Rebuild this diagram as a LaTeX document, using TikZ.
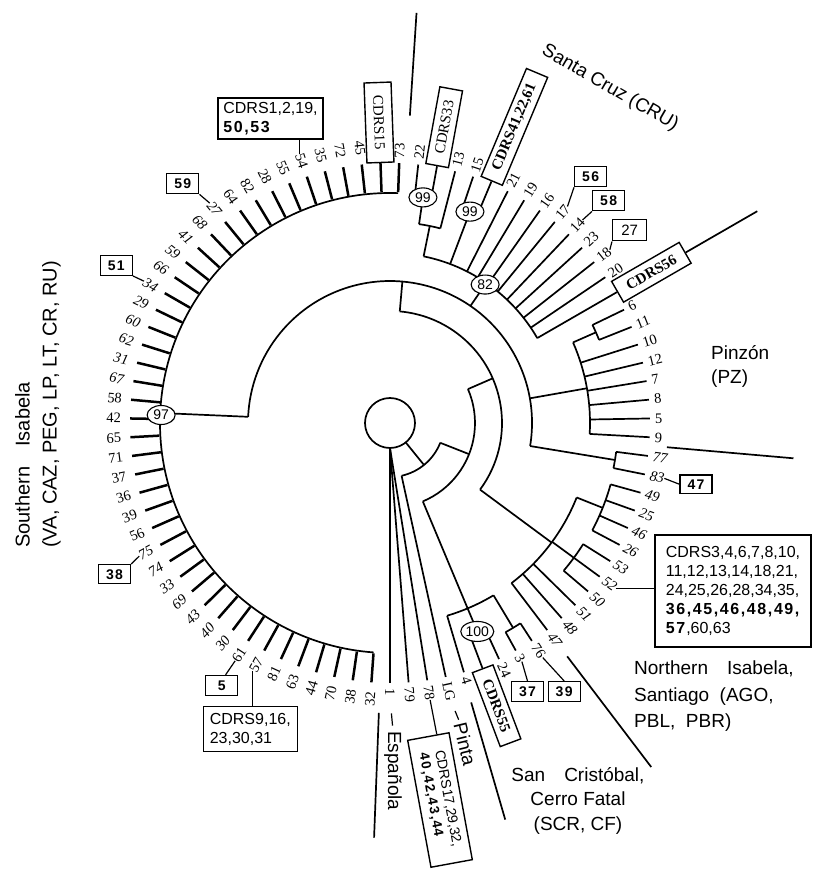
\documentclass[tikz,border=0pt]{standalone}
\usepackage{fontspec}
\setmainfont{Liberation Serif}
\newfontfamily\hv{Liberation Sans}
\newfontfamily\hvw{Liberation Sans}[LetterSpace=10]
\usetikzlibrary{shapes.geometric,calc}
\tikzset{
 br/.style={line width=1.7pt},
 sleaf/.style={line width=2.5pt},
 conn/.style={line width=1.2pt},
 clsep/.style={line width=1.7pt},
 lab/.style={inner sep=0pt,font=\fontsize{14.5}{15}\selectfont},
 boot/.style={ellipse,draw,fill=white,line width=1.1pt,inner sep=0pt,minimum width=28pt,minimum height=19pt,font=\hv\fontsize{14}{14}\selectfont},
 nbox/.style={draw,fill=white,line width=1.4pt,inner sep=0pt,minimum width=32pt,minimum height=20pt,font=\hvw\bfseries\fontsize{14}{14}\selectfont},
 rbox/.style={draw,fill=white,line width=1.4pt,inner sep=1pt,font=\fontsize{15}{15}\selectfont},
 tbox/.style={draw,fill=white,line width=1.4pt,inner sep=4pt,align=left,font=\hv\fontsize{16}{19}\selectfont},
 clade/.style={inner sep=0pt,font=\hv\fontsize{19}{24}\selectfont},
}
\newcommand\carc[3]{\draw[br] (#1:#3) arc[start angle=#1,end angle=#2,radius=#3pt];}
\newcommand\radl[3]{\draw[br] (#1:#2) -- (#1:#3);}
\newcommand\rlab[3]{\pgfmathsetmacro\myang{87.9-4.138*#1}\node[lab,anchor=west,rotate=\myang] (r#2) at (\myang:265) {#3};}
\newcommand\rleaf[4]{\pgfmathsetmacro\myang{87.9-4.138*#1}\draw[br] (\myang:#3) -- (\myang:260);\rlab{#1}{#2}{#4}}
\newcommand\lleaf[3]{\pgfmathsetmacro\myang{265.9-4.138*#1}\pgfmathsetmacro\myrot{\myang-180}\draw[sleaf] (\myang:231) -- (\myang:260);\node[lab,anchor=east,rotate=\myrot] (s#2) at (\myang:269) {#3};}
\begin{document}
\begin{tikzpicture}[x=1pt,y=1pt]
\useasboundingbox (-390,-446) rectangle (424,423);
\fill[white] (-390,-446) rectangle (424,423);
% ---------- backbone
\draw[br] (0,0) circle[radius=25pt];
\radl{-51}{25}{54}
\carc{-77.62}{-21.5}{54}
\radl{-77.62}{54}{260}
\radl{-21.5}{54}{85}
\carc{-67.28}{23.5}{85}
\radl{23.5}{85}{112}
\carc{-36.5}{85}{112}
\radl{85}{112}{142}
\carc{-9.34}{177.5}{142}
\radl{177.5}{142}{230}
\carc{87.97}{265.9}{230}
% Santa Cruz
\radl{55.5}{142}{170}
\carc{29.97}{78.59}{170}
\radl{78.59}{170}{201}
\carc{75.49}{81.69}{201}
\radl{81.69}{201}{228}
\carc{79.62}{83.76}{228}
\radl{69.28}{170}{226}
\carc{67.21}{71.35}{226}
% Pinzon
\radl{10}{142}{200}
\carc{-3.14}{23.76}{200}
\radl{23.76}{200}{225}
\carc{21.69}{25.83}{225}
% 77/83
\radl{-9.34}{142}{228}
\carc{-11.41}{-7.27}{228}
% Northern Isabela
\radl{-36.5}{112}{201}
\carc{-52.79}{-21.75}{201}
\radl{-21.75}{201}{229}
\carc{-27.96}{-15.55}{229}
\radl{-36.24}{201}{228}
\carc{-40.38}{-32.10}{228}
% San Cristobal
\radl{-67.28}{85}{201}
\carc{-73.48}{-59}{201}
\radl{-59}{201}{239}
\carc{-61.07}{-56.93}{239}
\radl{-67.28}{201}{226}
\carc{-69.34}{-65.21}{226}
% leaves from the root point
\draw[br] (-90:25) -- (-81.76:260);
\draw[br] (-90:25) -- (-85.90:260);
\draw[br] (-90:25) -- (-90:260);
% ---------- right-hand leaves
\rleaf{1}{22}{228}{22}
\rleaf{3}{13}{201}{13}
\rleaf{4}{15}{226}{15}
\rleaf{6}{21}{170}{21}
\rleaf{7}{19}{170}{19}
\rleaf{8}{16}{170}{16}
\rleaf{9}{17}{170}{17}
\rleaf{10}{14}{170}{14}
\rleaf{11}{23}{170}{23}
\rleaf{12}{18}{170}{18}
\rleaf{13}{20}{170}{20}
\rleaf{15}{6}{225}{6}
\rleaf{16}{11}{225}{11}
\rleaf{17}{10}{200}{10}
\rleaf{18}{12}{200}{12}
\rleaf{19}{7}{200}{7}
\rleaf{20}{8}{200}{8}
\rleaf{21}{5}{200}{5}
\rleaf{22}{9}{200}{9}
\rleaf{23}{77}{228}{\textit{77}}
\rleaf{24}{83}{228}{\textit{83}}
\rleaf{25}{49}{229}{\textit{49}}
\rleaf{26}{25}{229}{\textit{25}}
\rleaf{27}{46}{229}{\textit{46}}
\rleaf{28}{26}{229}{\textit{26}}
\rleaf{29}{53}{228}{\textit{53}}
\rleaf{30}{52}{228}{\textit{52}}
\rleaf{31}{50}{228}{\textit{50}}
\rleaf{32}{51}{201}{\textit{51}}
\rleaf{33}{48}{201}{\textit{48}}
\rleaf{34}{47}{201}{\textit{47}}
\rleaf{35}{76}{239}{76}
\rleaf{36}{3}{239}{3}
\rleaf{37}{24}{226}{24}
\rleaf{39}{4}{201}{4}
\rlab{40}{LG}{LG}
\rlab{41}{78}{78}
\rlab{42}{79}{79}
\rlab{43}{1}{1}
% boxed right leaves
\draw[br] (79.62:228) -- (79.62:261);
\node[rbox,anchor=west,rotate=79.62,minimum width=78pt,minimum height=23pt] (bC33) at (79.62:261) {CDRS33};
\draw[br] (67.21:226) -- (67.21:262);
\node[rbox,anchor=west,rotate=67.21,minimum width=117pt,minimum height=23pt,font=\bfseries\fontsize{15}{15}\selectfont] (bC41) at (67.21:262) {CDRS41,22,61};
\draw[br] (29.97:170) -- (29.97:262);
\node[rbox,anchor=west,rotate=29.97,minimum width=78pt,minimum height=24pt,font=\bfseries\fontsize{15}{15}\selectfont] (bC56) at (29.97:262) {CDRS56};
\draw[br] (-69.34:226) -- (-69.34:262);
\node[rbox,anchor=west,rotate=-69.34,minimum width=79pt,minimum height=22pt,font=\bfseries\fontsize{15}{15}\selectfont] (bC55) at (-69.34:262) {CDRS55};
% ---------- Southern Isabela leaves
\lleaf{0}{32}{32}
\lleaf{1}{38}{38}
\lleaf{2}{70}{70}
\lleaf{3}{44}{44}
\lleaf{4}{63}{63}
\lleaf{5}{81}{81}
\lleaf{6}{57}{57}
\lleaf{7}{61}{61}
\lleaf{8}{30}{\textit{30}}
\lleaf{9}{40}{\textit{40}}
\lleaf{10}{43}{\textit{43}}
\lleaf{11}{69}{\textit{69}}
\lleaf{12}{33}{\textit{33}}
\lleaf{13}{74}{\textit{74}}
\lleaf{14}{75}{\textit{75}}
\lleaf{15}{56}{56}
\lleaf{16}{39}{39}
\lleaf{17}{36}{36}
\lleaf{18}{37}{37}
\lleaf{19}{71}{71}
\lleaf{20}{65}{65}
\lleaf{21}{42}{42}
\lleaf{22}{58}{58}
\lleaf{23}{67}{\textit{67}}
\lleaf{24}{31}{\textit{31}}
\lleaf{25}{62}{\textit{62}}
\lleaf{26}{60}{\textit{60}}
\lleaf{27}{29}{\textit{29}}
\lleaf{28}{34}{\textit{34}}
\lleaf{29}{66}{\textit{66}}
\lleaf{30}{59}{\textit{59}}
\lleaf{31}{41}{\textit{41}}
\lleaf{32}{68}{\textit{68}}
\lleaf{33}{27}{\textit{27}}
\lleaf{34}{64}{64}
\lleaf{35}{82}{82}
\lleaf{36}{28}{28}
\lleaf{37}{55}{55}
\lleaf{38}{54}{54}
\lleaf{39}{35}{35}
\lleaf{40}{72}{72}
\lleaf{41}{45}{45}
\draw[sleaf] (92.1:231) -- (92.1:260);
\node[rbox,anchor=east,rotate=-87.9,minimum width=80pt,minimum height=27pt] (bC15) at (92.1:260) {CDRS15};
\draw[sleaf] (87.97:231) -- (87.97:260);
\node[lab,anchor=west,rotate=87.97] (s73) at (87.97:265) {73};
% ---------- bootstrap ellipses
\node[boot] (e97) at (178:229) {97};
\node[boot] (e99a) at (81.69:228) {99};
\node[boot] (e99b) at (69.28:226) {99};
\node[boot] (e82) at (55.5:168) {82};
\node[boot,minimum width=30pt,minimum height=20pt] (e100) at (-67.28:226) {100};
% ---------- clade separators
\draw[clsep] (86.3:308) -- (86.3:411);
\draw[clsep] (bC56.east) -- (29.97:424);
\draw[clsep] (-5:278) -- (-5:405);
\draw[clsep] (-52.79:293) -- (-52.79:432);
\draw[clsep] (-73.8:291) -- (-73.8:413);
\draw[clsep] (-92.2:290) -- (-92.2:415);
% ---------- Pinta, Espanola
\node[clade,anchor=west,rotate=-76.5] (tPi) at (70,-300) {Pinta};
\draw[conn] ($(rLG.east)!0.45!(tPi.west)$) -- ($(rLG.east)!0.85!(tPi.west)$);
\node[clade,anchor=west,rotate=-90] (tEs) at (3,-308) {Española};
\draw[conn] ($(r1.east)!0.5!(tEs.west)$) -- ($(r1.east)!0.85!(tEs.west)$);
% ---------- boxes and texts in pixel coordinates
\begin{scope}[x=1pt,y=-1pt,shift={(-390pt,423pt)}]
\node[tbox,minimum width=105pt,minimum height=39pt] (bA) at (270.5,118.5) {CDRS1,2,19,\\{\hvw\bfseries 50,53}};
\node[nbox] (b59) at (182.8,183.7) {59};
\node[nbox] (b51) at (116.3,265.3) {51};
\node[nbox,minimum height=19pt] (b38) at (114.5,574.2) {38};
\node[nbox] (b5) at (221.7,685.5) {5};
\node[tbox,minimum width=94pt,minimum height=45pt] (bC9) at (250.3,729.2) {CDRS9,16,\\23,30,31};
\node[nbox] (b56) at (590.7,176.7) {56};
\node[nbox] (b58) at (608.7,200.7) {58};
\node[nbox,font=\hv\fontsize{15}{15}\selectfont,minimum width=34pt,minimum height=21pt] (b27) at (629.7,230.3) {27};
\node[nbox,minimum height=18pt] (b47) at (696,484.2) {47};
\node[nbox] (b37) at (527.5,691.7) {37};
\node[nbox] (b39) at (564.2,691.7) {39};
\node[tbox,minimum width=156pt,minimum height=112pt] (bC3) at (733,591) {CDRS3,4,6,7,8,10,\\11,12,13,14,18,21,\\24,25,26,28,34,35,\\{\hvw\bfseries 36,45,46,48,49,}\\{\hvw\bfseries 57}\hspace{1pt},60,63};
\node[tbox,rotate=-79.6,inner sep=3pt,minimum width=129pt,minimum height=42pt,font=\hv\fontsize{14}{16}\selectfont] (bC17) at (440,800) {CDRS17,29,32,\\{\hvw\bfseries\fontsize{13.5}{16}\selectfont 40,42,43,44}};
\node[clade,rotate=-30] (tSC) at (610,88) {Santa Cruz (CRU)};
\node[clade,align=left,anchor=north west] (tPZ) at (711,345) {Pinzón\\(PZ)};
\node[clade,align=left,anchor=north west,font=\hv\fontsize{19}{26.5}\selectfont] (tNI) at (634,661) {Northern\quad Isabela,\\Santiago\ \ (AGO,\\PBL,\ \ PBR)};
\node[clade,align=center,anchor=north,font=\hv\fontsize{19}{24.5}\selectfont] (tSCr) at (578,767) {San\quad Cristóbal,\\Cerro Fatal\\(SCR, CF)};
\node[clade,align=left,anchor=north west,rotate=90,font=\hv\fontsize{20}{27}\selectfont] (tSI) at (15,548) {Southern\quad Isabela\\(VA, CAZ, PEG, LP, LT, CR, RU)};
\end{scope}
% ---------- connectors to boxes
\draw[conn] (s54.west) -- (s54.west |- bA.south);
\draw[conn] (s27.west) -- (b59.south east);
\draw[conn] (s34.west) -- (b51.south east);
\draw[conn] (s75.west) -- (b38.north east);
\draw[conn] (s61.west) -- (b5.70);
\draw[conn] (s57.west) -- (s57.west |- bC9.north);
\draw[conn] (r78.east) -- ($(bC17.north west)!0.3!(bC17.south west)$);
\draw[conn] (r17.east) -- (b56.south west);
\draw[conn] (r14.east) -- (b58.south west);
\draw[conn] (r18.east) -- (b27.south west);
\draw[conn] (r83.east) -- (b47.west);
\draw[conn] (r3.east) -- (b37.north);
\draw[conn] (r76.east) -- (b39.north);
\draw[conn] (r52.east) -- (r52.east -| bC3.west);
\end{tikzpicture}
\end{document}
